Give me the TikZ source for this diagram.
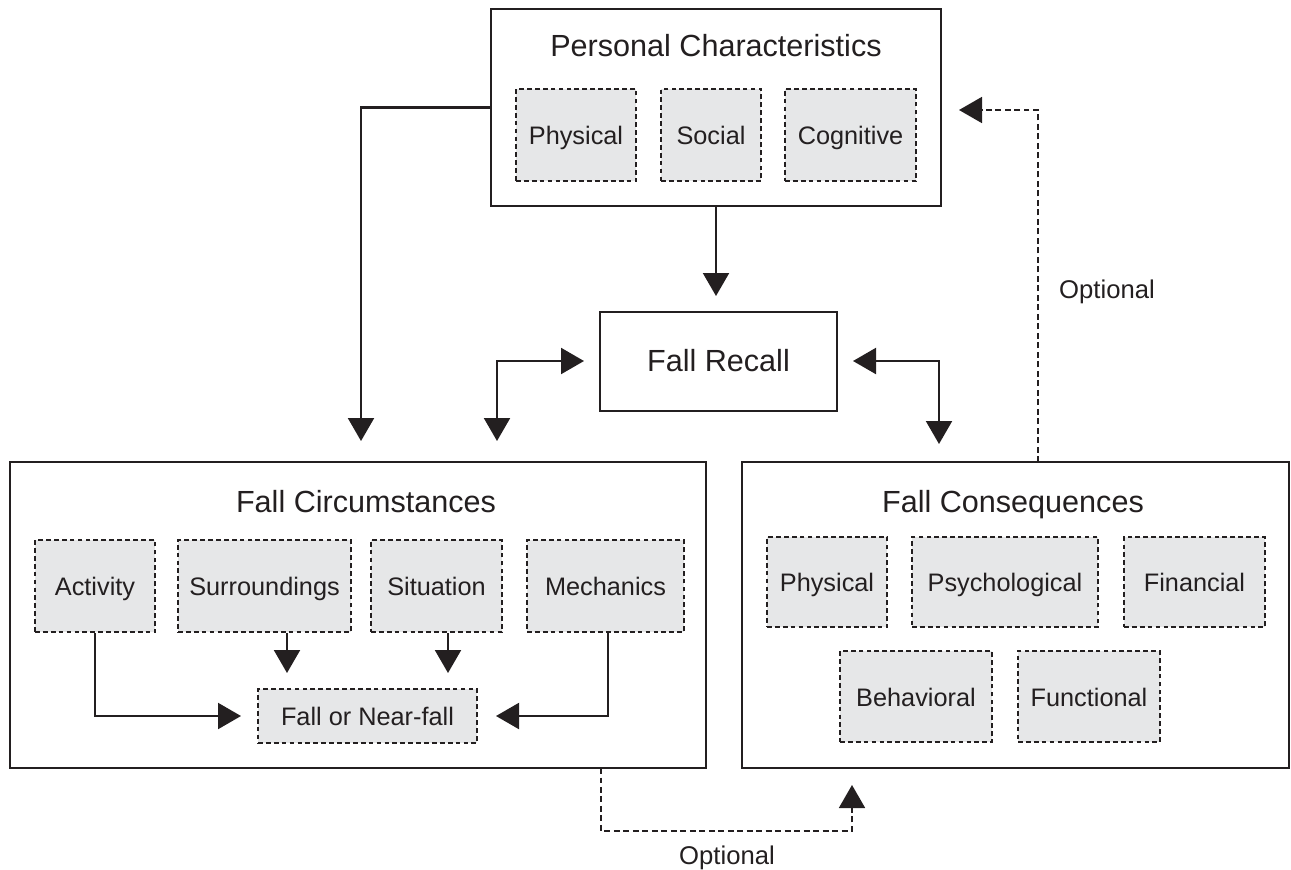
\documentclass[tikz,border=0pt]{standalone}
\usepackage{fontspec}
\setmainfont{Liberation Sans}
\usetikzlibrary{arrows.meta}
\definecolor{ink}{HTML}{231F20}
\definecolor{boxfill}{HTML}{E6E7E8}
\tikzset{
  sz/.style 2 args={minimum width=#1*0.02cm, minimum height=#2*0.02cm},
  outerbox/.style={draw=ink, line width=1.25pt, fill=white, inner sep=0pt},
  capcenter/.style={text height=0.72em, text depth=0pt},
  textdown/.style={yshift=-0.07cm},
  innerbox/.style={draw=ink, line width=1.6pt, dash pattern=on 2.7pt off 1.8pt, fill=boxfill, inner sep=0pt, text=ink, font=\fontsize{14.4}{17}\selectfont, capcenter},
  innertext/.style={text=ink, font=\fontsize{14.4}{17}\selectfont, inner sep=0pt, capcenter, textdown},
  titletext/.style={text=ink, font=\fontsize{17.4}{20}\selectfont, inner sep=0pt, capcenter, textdown},
  opttext/.style={text=ink, font=\fontsize{14.6}{17}\selectfont, inner sep=0pt, capcenter, textdown},
  arr/.style={draw=ink, line width=1.2pt, -{Triangle[length=0.46cm, width=0.52cm]}},
  darr/.style={draw=ink, line width=1.2pt, {Triangle[length=0.46cm, width=0.52cm]}-{Triangle[length=0.46cm, width=0.52cm]}},
  optarr/.style={draw=ink, line width=1pt, dash pattern=on 3.4pt off 2pt, -{Triangle[length=0.46cm, width=0.52cm]}},
}
\newcommand{\boxlabel}[2]{\node[innertext] at (#1) {#2};}
\begin{document}
\begin{tikzpicture}[x=0.02cm, y=-0.02cm]
\useasboundingbox (0,0) rectangle (1291,869);

% Personal Characteristics
\node[outerbox, sz={450}{197}] (pc) at (716,107.5) {};
\node[titletext] (pct) at (716,47) {Personal Characteristics};
\node[innerbox, sz={120}{92}] (pphys) at (576,135) {};
\node[innerbox, sz={100}{92}] (psoc) at (711,135) {};
\node[innerbox, sz={131}{92}] (pcog) at (850.5,135) {};
\node[innertext] (pphysl) at (pphys) {Physical};
\node[innertext] (psocl) at (psoc) {Social};
\node[innertext] (pcogl) at (pcog) {Cognitive};

% Fall Recall
\node[outerbox, sz={237}{99}] (fr) at (718.5,361.5) {};
\node[titletext] (frl) at (fr) {Fall Recall};

% Fall Circumstances
\node[outerbox, sz={696}{306}] (fc) at (358,615) {};
\node[titletext] (fct) at (366,503) {Fall Circumstances};
\node[innerbox, sz={120}{92}] (act) at (95,586) {};
\node[innerbox, sz={173}{92}] (sur) at (264.5,586) {};
\node[innerbox, sz={131}{92}] (sit) at (436.5,586) {};
\node[innerbox, sz={157}{92}] (mech) at (605.5,586) {};
\node[innerbox, sz={219}{54}] (fnf) at (367.5,716) {};
\node[innertext] (actl) at (act) {Activity};
\node[innertext] (surl) at (sur) {Surroundings};
\node[innertext] (sitl) at (sit) {Situation};
\node[innertext] (mechl) at (mech) {Mechanics};
\node[innertext] (fnfl) at (fnf) {Fall or Near-fall};

% Fall Consequences
\node[outerbox, sz={547}{306}] (fq) at (1015.5,615) {};
\node[titletext] (fqt) at (1013,503) {Fall Consequences};
\node[innerbox, sz={120}{90}] (cphys) at (827,582) {};
\node[innerbox, sz={186}{90}] (cpsy) at (1005,582) {};
\node[innerbox, sz={141}{90}] (cfin) at (1194.5,582) {};
\node[innerbox, sz={152}{91}] (cbeh) at (916,696.5) {};
\node[innerbox, sz={142}{91}] (cfun) at (1089,696.5) {};
\node[innertext] (cphysl) at (cphys) {Physical};
\node[innertext] (cpsyl) at (cpsy) {Psychological};
\node[innertext] (cfinl) at (cfin) {Financial};
\node[innertext] (cbehl) at (cbeh) {Behavioral};
\node[innertext] (cfunl) at (cfun) {Functional};

% free ends
\coordinate (t1) at (361,441);
\coordinate (t2) at (716,296);
\coordinate (t3a) at (497,441);
\coordinate (t3b) at (584,361);
\coordinate (t4a) at (853,361);
\coordinate (t4b) at (939,444);
\coordinate (t5) at (287,673);
\coordinate (t6) at (448,673);
\coordinate (t7) at (241,716);
\coordinate (t8) at (496,716);
\coordinate (m8) at (608,632);
\coordinate (b1) at (601,768);
\coordinate (b2) at (601,831);
\coordinate (t9) at (852,785);
\coordinate (r1) at (1038,462);
\coordinate (t10) at (959,110);

% connectors
\draw[arr] (pc.west) -| (t1);
\draw[arr] (pc.south) -- (t2);
\draw[darr] (t3a) |- (t3b);
\draw[darr] (t4a) -| (t4b);
\draw[arr] (sur.south -| t5) -- (t5);
\draw[arr] (sit.south -| t6) -- (t6);
\draw[arr] (act.south) |- (t7);
\draw[arr] (m8) |- (t8);
\draw[optarr] (b1) -- (b2) -| (t9);
\draw[optarr] (r1) |- (t10);

% labels
\node[opttext] (o1) at (727,855) {Optional};
\node[opttext] (o2) at (1107,289) {Optional};
\end{tikzpicture}
\end{document}
